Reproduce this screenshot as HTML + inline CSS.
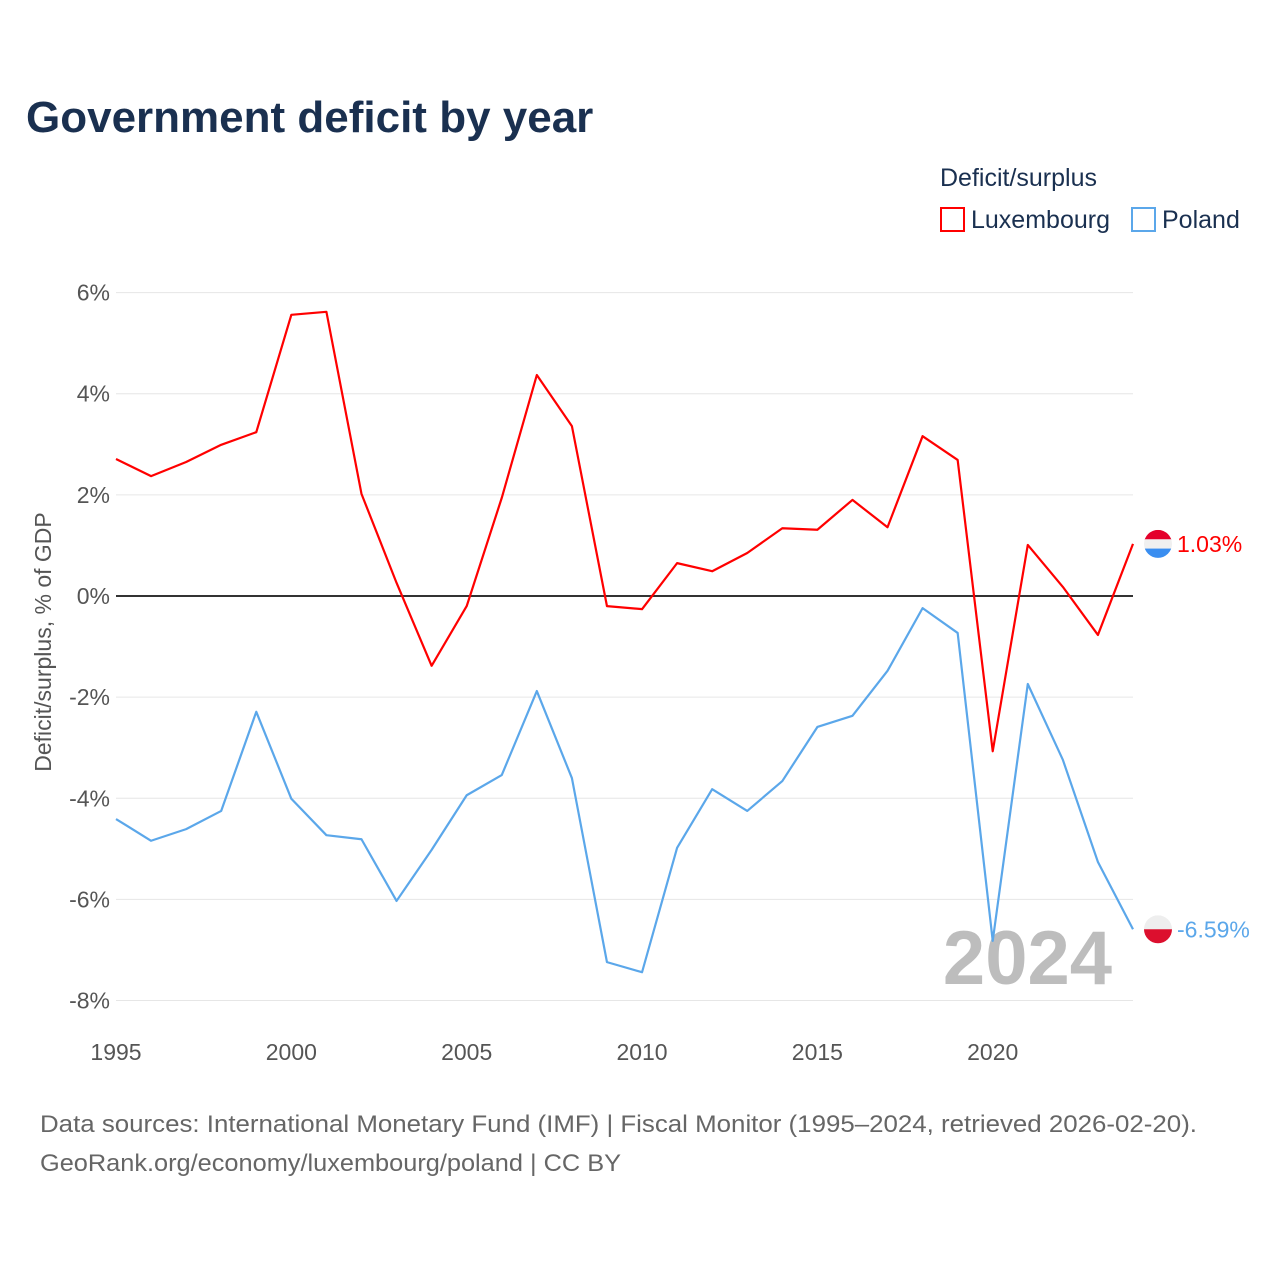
<!DOCTYPE html>
<html><head><meta charset="utf-8">
<style>
body{margin:0;background:#fff;font-family:"Liberation Sans",sans-serif;}
svg text{font-family:"Liberation Sans",sans-serif;}
</style></head>
<body>
<svg id="chart" width="1280" height="1280" viewBox="0 0 1280 1280" xmlns="http://www.w3.org/2000/svg">
<text x="26" y="132" font-size="44" font-weight="bold" fill="#1a3050">Government deficit by year</text>
<text x="940" y="186" font-size="25" fill="#1a3050">Deficit/surplus</text>
<g>
<rect x="941" y="208" width="23" height="23" fill="none" stroke="#ff0000" stroke-width="2"/>
<text x="971" y="228" font-size="25" fill="#1a3050">Luxembourg</text></g>
<g>
<rect x="1132" y="208" width="23" height="23" fill="none" stroke="#5ba7ea" stroke-width="2"/>
<text x="1162" y="228" font-size="25" fill="#1a3050">Poland</text></g>
<g id="grid"></g>
<g id="yticks"></g>
<g id="xticks"></g>
<text transform="translate(51,642) rotate(-90)" text-anchor="middle" font-size="23" fill="#555">Deficit/surplus, % of GDP</text>
<text x="1112" y="984" text-anchor="end" font-size="76" font-weight="bold" fill="#bdbdbd">2024</text>
<g id="series"></g>
<text x="40" y="1132" font-size="24" fill="#666" textLength="1157" lengthAdjust="spacingAndGlyphs">Data sources: International Monetary Fund (IMF) | Fiscal Monitor (1995–2024, retrieved 2026-02-20).</text>
<text x="40" y="1171" font-size="24" fill="#666" textLength="581" lengthAdjust="spacingAndGlyphs">GeoRank.org/economy/luxembourg/poland | CC BY</text>
</svg>
<script>
const years=[1995,1996,1997,1998,1999,2000,2001,2002,2003,2004,2005,2006,2007,2008,2009,2010,2011,2012,2013,2014,2015,2016,2017,2018,2019,2020,2021,2022,2023,2024];
const luxembourg=[2.71,2.37,2.65,2.99,3.24,5.56,5.62,2.02,0.26,-1.38,-0.2,1.94,4.37,3.36,-0.2,-0.26,0.65,0.49,0.85,1.34,1.31,1.9,1.36,3.16,2.69,-3.07,1.01,0.18,-0.77,1.03];
const poland=[-4.41,-4.84,-4.61,-4.25,-2.29,-4.01,-4.73,-4.81,-6.03,-5.02,-3.94,-3.54,-1.88,-3.6,-7.24,-7.44,-4.98,-3.82,-4.25,-3.66,-2.59,-2.37,-1.48,-0.24,-0.73,-6.82,-1.74,-3.24,-5.26,-6.59];
const yTicks=[6,4,2,0,-2,-4,-6,-8];
const xTicks=[1995,2000,2005,2010,2015,2020];
const NS="http://www.w3.org/2000/svg";
const X=v=>116+(v-1995)*(1133-116)/29;
const Y=v=>596-v*50.57;
function mk(tag,attrs,parent){const e=document.createElementNS(NS,tag);for(const k in attrs)e.setAttribute(k,attrs[k]);parent.appendChild(e);return e;}
const grid=document.getElementById('grid'),yt=document.getElementById('yticks'),xt=document.getElementById('xticks'),ser=document.getElementById('series');
yTicks.forEach(v=>{
 const l=mk('line',{x1:116,x2:1133,y1:Y(v),y2:Y(v),stroke:v===0?'#333':'#e6e6e6','stroke-width':v===0?2:1},grid);
 
 
 const t=mk('text',{x:110,y:Y(v)+8,'text-anchor':'end','font-size':23,fill:'#555'},yt);
 t.textContent=v+'%';
 
 
});
xTicks.forEach(v=>{
 const t=mk('text',{x:X(v),y:1060,'text-anchor':'middle','font-size':23,fill:'#555'},xt);
 t.textContent=v;
 
 
});
function line(data,color,name){
 const p=mk('polyline',{points:data.map((v,i)=>X(years[i])+','+Y(v)).join(' '),fill:'none',stroke:color,'stroke-width':2.2,'stroke-linejoin':'round'},ser);
 
 
}
line(luxembourg,'#ff0000','luxembourg-line');
line(poland,'#5ba7ea','poland-line');
function flag(v,colors,name,label,col){
 const cy=Y(v),cx=1158,r=14;
 const g=mk('g',{},ser);
 
 
 mk('clipPath',{id:name+'c'},g).appendChild(document.createElementNS(NS,'circle'));
 const c=g.querySelector('circle');c.setAttribute('cx',cx);c.setAttribute('cy',cy);c.setAttribute('r',r);
 const n=colors.length;
 colors.forEach((cl,i)=>mk('rect',{x:cx-r,y:cy-r+i*2*r/n,width:2*r,height:2*r/n+0.5,fill:cl,'clip-path':'url(#'+name+'c)'},g));
 const t=mk('text',{x:1177,y:cy+8,'font-size':23,fill:col},g);
 t.textContent=label;
}
flag(luxembourg[29],['#e4002b','#f0f0f0','#3a8ef0'],'luxembourg-end-label',luxembourg[29].toFixed(2)+'%','#ff0000');
flag(poland[29],['#eeeeee','#dc0f2e'],'poland-end-label',poland[29].toFixed(2)+'%','#5ba7ea');
</script>
</body></html>
